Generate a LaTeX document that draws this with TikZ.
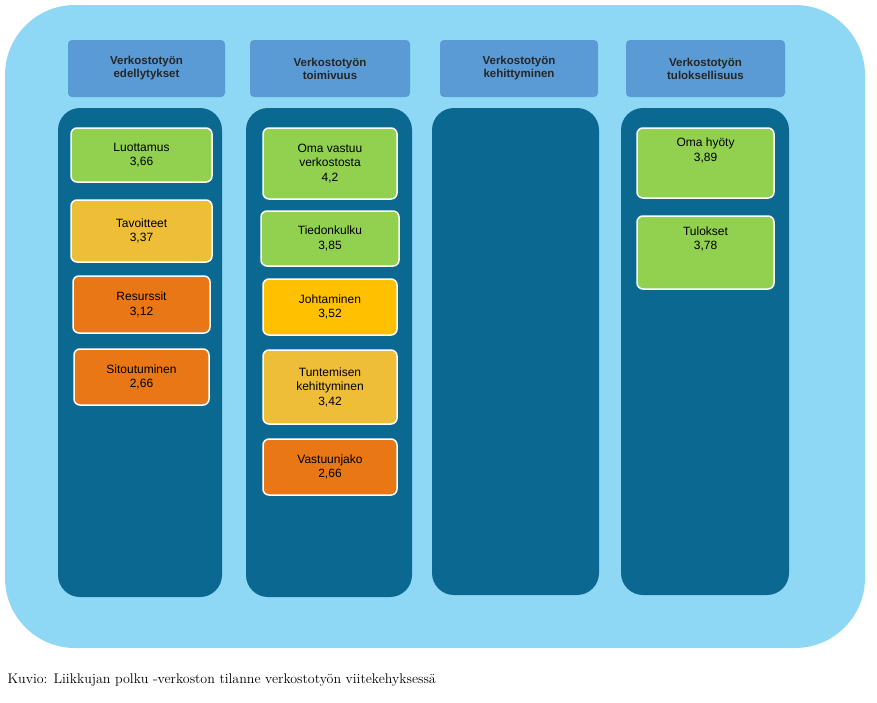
\documentclass[tikz,border=0pt]{standalone}
\usepackage{fontspec}
\newfontfamily\arial{Liberation Sans}
\begin{document}
\begin{tikzpicture}[x=1pt,y=-1pt,
  hdr/.style={fill=hdrc,rounded corners=4pt,font=\arial\bfseries\fontsize{11.5}{13}\selectfont,text=black!85,align=center},
  col/.style={fill=colc,rounded corners=22pt},
  box/.style={draw=white,line width=1.5pt,rounded corners=6pt,font=\arial\fontsize{12}{14.5}\selectfont,align=center,text=black}]
\definecolor{bgc}{HTML}{8ED8F6}
\definecolor{hdrc}{HTML}{5B9BD5}
\definecolor{colc}{HTML}{0B6891}
\definecolor{gr}{HTML}{92D050}
\definecolor{ye}{HTML}{EEBE38}
\definecolor{go}{HTML}{FFC000}
\definecolor{or}{HTML}{E97715}
\useasboundingbox (0,0) rectangle (877,702);
\path[fill=bgc,rounded corners=70pt] (5,5) rectangle (865,648);
\newcommand\hd[5]{\node[hdr,minimum width=#3-#1,minimum height=#4-#2] (#5) at ({(#1+#3)/2},{(#2+#4)/2}) {};}
\node[hdr,minimum width=157,minimum height=57] (h1) at (146.5,68.5) {Verkostotyön\\edellytykset};
\node[hdr,minimum width=160,minimum height=57] (h2) at (330,68.5) {Verkostotyön\\toimivuus};
\node[hdr,minimum width=158,minimum height=57] (h3) at (519,68.5) {Verkostotyön\\kehittyminen};
\node[hdr,minimum width=159,minimum height=57] (h4) at (705.5,68.5) {Verkostotyön\\tuloksellisuus};
\path[col] (58,108) rectangle (222,597);
\path[col] (246,108) rectangle (412,597);
\path[col] (432,108) rectangle (599,595);
\path[col] (621,108) rectangle (789,595);
\node[box,fill=gr,minimum width=141,minimum height=54] (b1) at (141.5,155) {Luottamus\\3,66};
\node[box,fill=ye,minimum width=141,minimum height=62] (b2) at (141.5,231) {Tavoitteet\\3,37};
\node[box,fill=or,minimum width=137,minimum height=57] (b3) at (141.5,304.5) {Resurssit\\3,12};
\node[box,fill=or,minimum width=135,minimum height=56] (b4) at (141.5,377) {Sitoutuminen\\2,66};
\node[box,fill=gr,minimum width=134,minimum height=71] (c1) at (330,163.5) {Oma vastuu\\verkostosta\\4,2};
\node[box,fill=gr,minimum width=138,minimum height=55] (c2) at (330,238.5) {Tiedonkulku\\3,85};
\node[box,fill=go,minimum width=134,minimum height=56] (c3) at (330,307) {Johtaminen\\3,52};
\node[box,fill=ye,minimum width=134,minimum height=74] (c4) at (330,387) {Tuntemisen\\kehittyminen\\3,42};
\node[box,fill=or,minimum width=134,minimum height=56] (c5) at (330,467) {Vastuunjako\\2,66};
\node[box,fill=gr,minimum width=137,minimum height=70] (d1) at (705.5,163) {Oma hyöty\\3,89\\[12pt]};
\node[box,fill=gr,minimum width=137,minimum height=73] (d2) at (705.5,252.5) {Tulokset\\3,78\\[14pt]};
\node[anchor=west,font=\fontsize{14}{16}\selectfont] (cap) at (4,680) {Kuvio: Liikkujan polku -verkoston tilanne verkostotyön viitekehyksessä};
\end{tikzpicture}
\end{document}
